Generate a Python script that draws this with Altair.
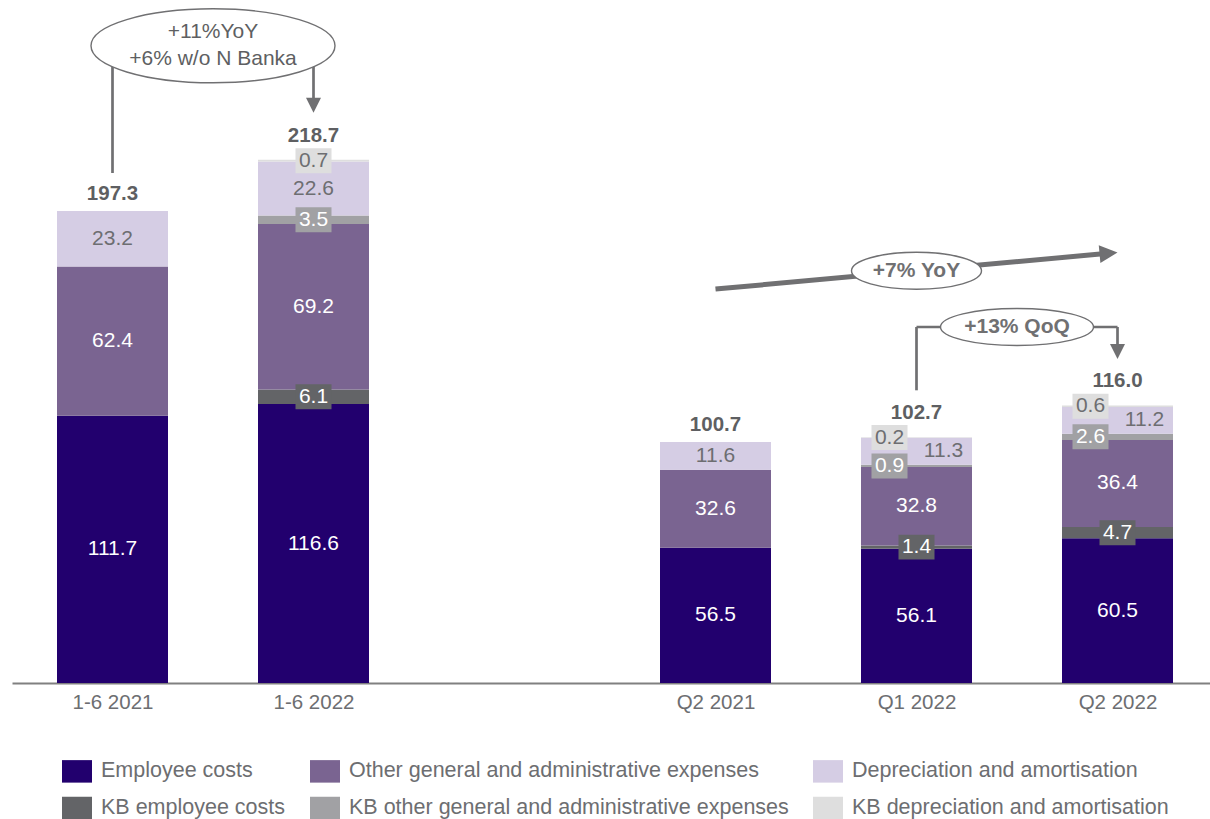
import math

import altair as alt
import pandas as pd

# ---- data -------------------------------------------------------------
# axis slots; the empty slot separates the half-year block from the quarters
SLOT_LABELS = ["1-6 2021", "1-6 2022", "", "Q2 2021", "Q1 2022", "Q2 2022"]
PERIODS = ["1-6 2021", "1-6 2022", "Q2 2021", "Q1 2022", "Q2 2022"]

EMPLOYEE = [111.7, 116.6, 56.5, 56.1, 60.5]
KB_EMPLOYEE = [0.0, 6.1, 0.0, 1.4, 4.7]
OTHER_GA = [62.4, 69.2, 32.6, 32.8, 36.4]
KB_OTHER_GA = [0.0, 3.5, 0.0, 0.9, 2.6]
DEPRECIATION = [23.2, 22.6, 11.6, 11.3, 11.2]
KB_DEPRECIATION = [0.0, 0.7, 0.0, 0.2, 0.6]
TOTALS = [197.3, 218.7, 100.7, 102.7, 116.0]

# stacking order, bottom to top
SERIES = [
    "Employee costs",
    "KB employee costs",
    "Other general and administrative expenses",
    "KB other general and administrative expenses",
    "Depreciation and amortisation",
    "KB depreciation and amortisation",
]
SERIES_VALUES = [EMPLOYEE, KB_EMPLOYEE, OTHER_GA, KB_OTHER_GA, DEPRECIATION, KB_DEPRECIATION]
LEGEND_ORDER = [SERIES[0], SERIES[2], SERIES[4], SERIES[1], SERIES[3], SERIES[5]]

ANNOT_HALF_YEAR = "+11%YoY\n+6% w/o N Banka"
ANNOT_YOY = "+7% YoY"
ANNOT_QOQ = "+13% QoQ"

# ---- styling ----------------------------------------------------------
FONT = "Liberation Sans"
GREY_TEXT = "#6D6E71"
DARK_TEXT = "#5E5F62"
LINE = "#707072"
COLORS = {
    SERIES[0]: "#22006E",
    SERIES[1]: "#636467",
    SERIES[2]: "#7A6491",
    SERIES[3]: "#A1A1A4",
    SERIES[4]: "#D5CDE4",
    SERIES[5]: "#DEDEDE",
}
INK = {
    SERIES[0]: "#FFFFFF",
    SERIES[1]: "#FFFFFF",
    SERIES[2]: "#FFFFFF",
    SERIES[3]: "#FFFFFF",
    SERIES[4]: GREY_TEXT,
    SERIES[5]: GREY_TEXT,
}

PLOT_W, PLOT_H = 1198, 683
Y_MAX = 285.5
X_MIN = -0.5
X_MAX = X_MIN + PLOT_W / 201.0
UPX = Y_MAX / PLOT_H          # y units per pixel
XPX = PLOT_W / (X_MAX - X_MIN)  # pixels per x unit

# ---- tables -----------------------------------------------------------
seg_rows = []
for i, period in enumerate(PERIODS):
    x = SLOT_LABELS.index(period)
    crowded = KB_DEPRECIATION[i] > 0 and DEPRECIATION[i] < 15
    base = 0.0
    for name, vals in zip(SERIES, SERIES_VALUES):
        v = vals[i]
        if v <= 0:
            continue
        if crowded and name in (SERIES[3], SERIES[5]):
            side = "left"
        elif crowded and name == SERIES[4]:
            side = "right"
        else:
            side = "center"
        seg_rows.append(dict(
            period=period, x=x, series=name, value=v,
            start=base, end=base + v, mid=base + v / 2,
            label=f"{v:.1f}", kb=name.startswith("KB"), side=side,
            fill=COLORS[name], ink=INK[name],
        ))
        base += v
segments = pd.DataFrame(seg_rows)

totals = pd.DataFrame({
    "x": [SLOT_LABELS.index(p) for p in PERIODS],
    "total": TOTALS,
    "label": [f"{t:.1f}" for t in TOTALS],
    "capped": [k > 0 for k in KB_DEPRECIATION],
})

# ---- shared encodings -------------------------------------------------
label_js = "[" + ",".join(f"'{s}'" for s in SLOT_LABELS) + "]"
x_scale = alt.Scale(domain=[X_MIN, X_MAX], nice=False, zero=False, padding=0)
y_scale = alt.Scale(domain=[0, Y_MAX], nice=False, zero=True, padding=0)
x_axis = alt.Axis(
    values=[SLOT_LABELS.index(p) for p in PERIODS],
    labelExpr=f"{label_js}[datum.value]",
    title=None, ticks=False, grid=False,
    domainColor="#808080", domainWidth=2,
    labelFont=FONT, labelFontSize=20.5, labelColor=GREY_TEXT,
    labelPadding=9, labelFlush=False, labelOverlap=False,
)


def X(field):
    return alt.X(f"{field}:Q", scale=x_scale, axis=x_axis)


def Y(field):
    return alt.Y(f"{field}:Q", scale=y_scale, axis=None)


RECT_BOX = "M-1,-0.694H1V0.694H-1Z"
RECT_BOX_LEFT = "M-2.5,-0.694H-0.5V0.694H-2.5Z"
LEGEND_SWATCH = "M-1,-0.75H1V0.75H-1Z"
ARROW_DOWN = "M-1,-2L1,-2L0,0Z"
ARROW_RIGHT = "M0,0L-2,-1L-2,1Z"


def ellipse_path(ratio):
    k = 0.5523
    r = ratio
    return (f"M-1,0C-1,{-k*r:.4f} {-k:.4f},{-r:.4f} 0,{-r:.4f}"
            f"C{k:.4f},{-r:.4f} 1,{-k*r:.4f} 1,0"
            f"C1,{k*r:.4f} {k:.4f},{r:.4f} 0,{r:.4f}"
            f"C{-k:.4f},{r:.4f} -1,{k*r:.4f} -1,0Z")


# ---- bars & labels ----------------------------------------------------
bars = alt.Chart(segments).mark_bar(size=111).encode(
    x=X("x"),
    y=Y("start"),
    y2="end:Q",
    color=alt.Color(
        "series:N",
        scale=alt.Scale(domain=LEGEND_ORDER, range=[COLORS[s] for s in LEGEND_ORDER]),
        legend=alt.Legend(
            orient="none", legendX=50, legendY=756, columns=3, direction="horizontal",
            title=None, symbolType=LEGEND_SWATCH, symbolSize=900, symbolStrokeWidth=0,
            symbolOpacity=1, labelFont=FONT, labelFontSize=21.5,
            labelColor=GREY_TEXT, labelOffset=9, labelLimit=700,
            columnPadding=24, rowPadding=10, padding=0,
        ),
    ),
)

kb = segments[segments["kb"]]
boxes_c = alt.Chart(kb[kb["side"] == "center"]).mark_point(
    shape=RECT_BOX, size=36 * 36, filled=True, opacity=1, strokeWidth=0
).encode(x=X("x"), y=Y("mid"), fill=alt.Fill("fill:N", scale=None))
boxes_l = alt.Chart(kb[kb["side"] == "left"]).mark_point(
    shape=RECT_BOX_LEFT, size=36 * 36, filled=True, opacity=1, strokeWidth=0
).encode(x=X("x"), y=Y("mid"), fill=alt.Fill("fill:N", scale=None))


def seg_text(side, dx):
    return alt.Chart(segments[segments["side"] == side]).mark_text(
        font=FONT, fontSize=21, dx=dx, baseline="middle", align="center"
    ).encode(x=X("x"), y=Y("mid"), text="label:N", color=alt.Color("ink:N", scale=None))


txt_c = seg_text("center", 0)
txt_l = seg_text("left", -27)
txt_r = seg_text("right", 27)

tot_plain = alt.Chart(totals[~totals["capped"]]).mark_text(
    font=FONT, fontSize=20.5, fontWeight="bold", color=DARK_TEXT, dy=-17, baseline="middle"
).encode(x=X("x"), y=Y("total"), text="label:N")
tot_capped = alt.Chart(totals[totals["capped"]]).mark_text(
    font=FONT, fontSize=20.5, fontWeight="bold", color=DARK_TEXT, dy=-24, baseline="middle"
).encode(x=X("x"), y=Y("total"), text="label:N")

# ---- annotations ------------------------------------------------------
t0, t1, t2, t3, t4 = TOTALS
ix = [SLOT_LABELS.index(p) for p in PERIODS]

# half-year comparison bubble
hy_y = t1 + 114 * UPX
hy_tip = t1 + 47 * UPX
# quarter-on-quarter bracket
q_y = t4 + 78.5 * UPX
q_tip = t4 + 46.5 * UPX
thin = pd.DataFrame([
    dict(x=ix[0], x2=ix[0], y=t0 + 38 * UPX, y2=hy_y),
    dict(x=ix[1], x2=ix[1], y=hy_y, y2=hy_tip + 14 * UPX),
    dict(x=ix[3], x2=ix[3], y=t3 + 47 * UPX, y2=q_y),
    dict(x=ix[3], x2=ix[4], y=q_y, y2=q_y),
    dict(x=ix[4], x2=ix[4], y=q_y, y2=q_tip + 14 * UPX),
])
thin_rules = alt.Chart(thin).mark_rule(color=LINE, strokeWidth=2.7).encode(
    x=X("x"), x2="x2:Q", y=Y("y"), y2="y2:Q"
)
heads = pd.DataFrame({"x": [ix[1], ix[4]], "y": [hy_tip, q_tip]})
head_marks = alt.Chart(heads).mark_point(
    shape=ARROW_DOWN, size=225, filled=True, color=LINE, opacity=1, strokeWidth=0
).encode(x=X("x"), y=Y("y"))

# year-on-year trend arrow across the quarters
ya = t2 + 153 * UPX
yb = t4 + 153 * UPX
theta = math.atan2((yb - ya) / UPX, (ix[4] - ix[2]) * XPX)
back = 12
trend = pd.DataFrame([dict(
    x=ix[2], y=ya,
    x2=ix[4] - back * math.cos(theta) / XPX,
    y2=yb - back * math.sin(theta) * UPX,
)])
trend_rule = alt.Chart(trend).mark_rule(color=LINE, strokeWidth=5).encode(
    x=X("x"), x2="x2:Q", y=Y("y"), y2="y2:Q"
)
trend_head = alt.Chart(pd.DataFrame({"x": [ix[4]], "y": [yb]})).mark_point(
    shape=ARROW_RIGHT, size=324, filled=True, color=LINE, opacity=1, strokeWidth=0,
    angle=360 - math.degrees(theta),
).encode(x=X("x"), y=Y("y"))

bubbles = [
    dict(x=(ix[0] + ix[1]) / 2, y=hy_y, w=244, h=74, text=ANNOT_HALF_YEAR, bold=False, lines=2),
    dict(x=(ix[2] + ix[4]) / 2, y=(ya + yb) / 2, w=130, h=37, text=ANNOT_YOY, bold=True, lines=1),
    dict(x=(ix[3] + ix[4]) / 2, y=q_y, w=153, h=37, text=ANNOT_QOQ, bold=True, lines=1),
]
LINE_HEIGHT = 27
bubble_layers = []
for b in bubbles:
    d = pd.DataFrame([b])
    bubble_layers.append(
        alt.Chart(d).mark_point(
            shape=ellipse_path(b["h"] / b["w"]), size=b["w"] ** 2, filled=False,
            fill="#FFFFFF", fillOpacity=1, stroke=LINE, strokeWidth=1.4, opacity=1,
        ).encode(x=X("x"), y=Y("y"))
    )
    bubble_layers.append(
        alt.Chart(d).mark_text(
            font=FONT, fontSize=21, fontWeight="bold" if b["bold"] else "normal",
            color=LINE if b["bold"] else DARK_TEXT, lineBreak="\n", lineHeight=LINE_HEIGHT,
            baseline="middle", align="center", dy=-(b["lines"] - 1) * LINE_HEIGHT / 2,
        ).encode(x=X("x"), y=Y("y"), text="text:N")
    )

chart = alt.layer(
    bars, boxes_c, boxes_l, txt_c, txt_l, txt_r, tot_plain, tot_capped,
    thin_rules, head_marks, trend_rule, trend_head, *bubble_layers,
).properties(
    width=PLOT_W,
    height=PLOT_H,
    padding={"left": 12, "top": 0, "right": 0, "bottom": 136},
    autosize=alt.AutoSizeParams(type="none"),
    background="#FFFFFF",
).configure_view(stroke=None)

chart.save("out.html", embed_options={"renderer": "svg", "actions": False})
